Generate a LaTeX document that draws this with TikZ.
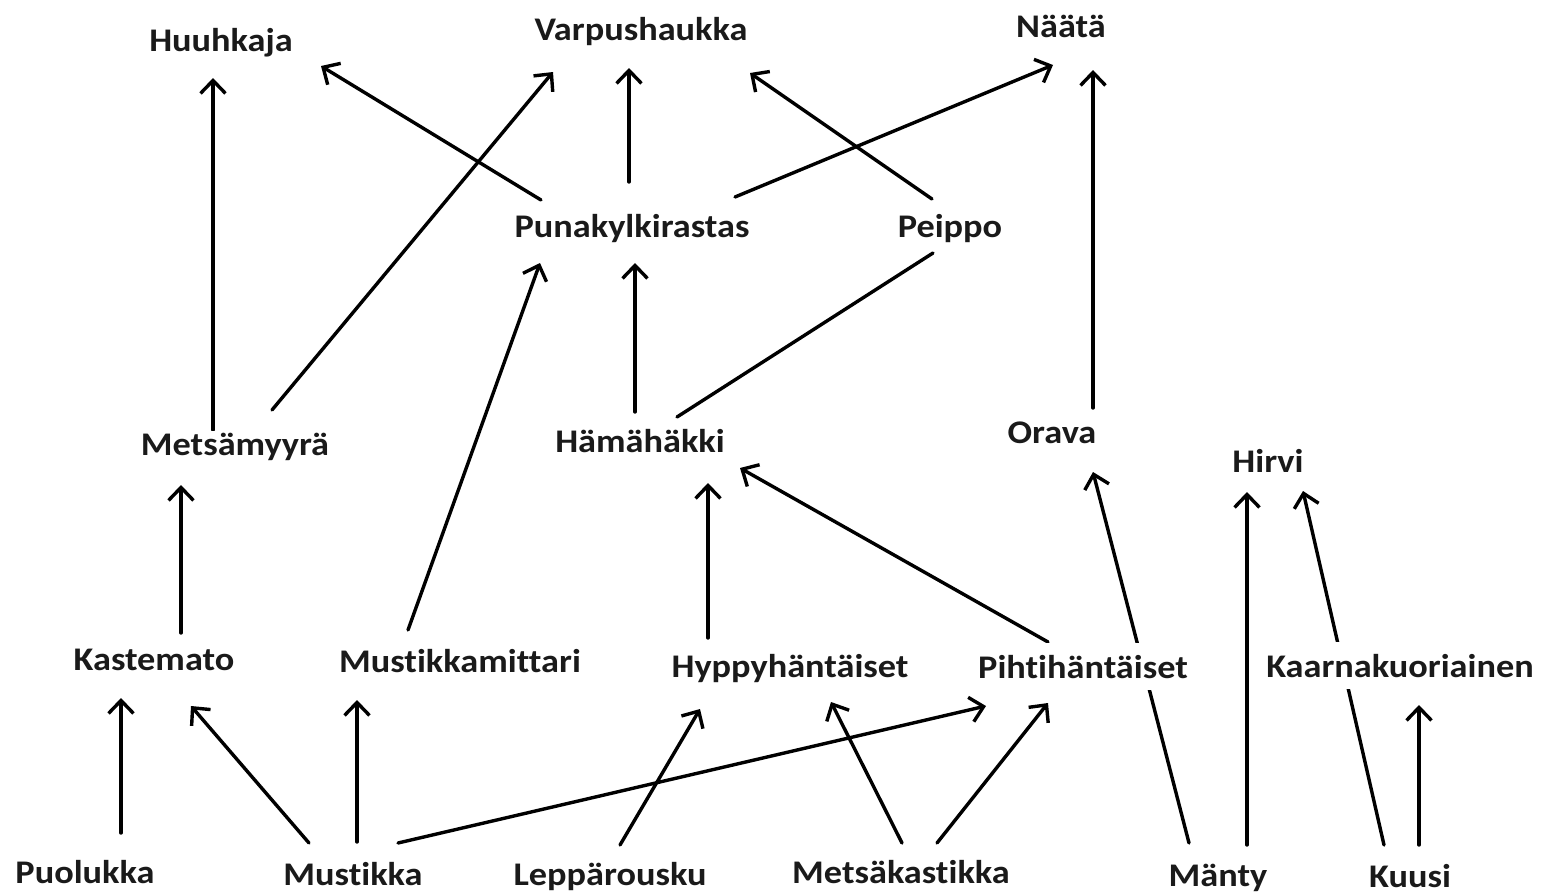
\documentclass[tikz,border=0pt]{standalone}
\usepackage{fontspec}
\setmainfont{Carlito}[FakeStretch=1.1,Ligatures={NoCommon,NoRequired,NoContextual}]
\usetikzlibrary{arrows.meta,calc}
\pgfdeclarelayer{bg}
\pgfsetlayers{bg,main}
\definecolor{txt}{HTML}{1A1A1A}
\begin{document}
\begin{tikzpicture}[x=0.5pt,y=-0.5pt,
  lbl/.style={anchor=base,inner sep=1pt,fill=white,text=txt,font=\bfseries\fontsize{16.5}{20}\selectfont},
  gap/.style={inner ysep=6pt},
  arr/.style={line width=1.7pt,line cap=round,-{Straight Barb[length=6.5pt,width=12.5pt,line width=1.7pt]}},
  ln/.style={line width=1.7pt,line cap=round}]
\useasboundingbox (0,0) rectangle (1542,894);
% nodes
\node[lbl] (Hu) at (221,51) {Huuhkaja};
\node[lbl] (Vp) at (641,40) {Varpushaukka};
\node[lbl] (Na) at (1061,38) {Näätä};
\node[lbl] (Pk) at (632,237) {Punakylkirastas};
\node[lbl] (Pe) at (950,237) {Peippo};
\node[lbl] (Mm) at (235,455) {Metsämyyrä};
\node[lbl] (Hm) at (640,452) {Hämähäkki};
\node[lbl] (Or) at (1052,443) {Orava};
\node[lbl] (Hi) at (1268,472) {Hirvi};
\node[lbl] (Ka) at (154,670) {Kastemato};
\node[lbl] (Mt) at (460,672) {Mustikkamittari};
\node[lbl] (Hy) at (790,677) {Hyppyhäntäiset};
\node[lbl,gap] (Pi) at (1083,678) {Pihtihäntäiset};
\node[lbl,gap] (Kk) at (1400,677) {Kaarnakuoriainen};
\node[lbl] (Pu) at (85,883) {Puolukka};
\node[lbl] (Mu) at (353,885) {Mustikka};
\node[lbl] (Le) at (610,885) {Leppärousku};
\node[lbl] (Mk) at (901,883) {Metsäkastikka};
\node[lbl] (Ma) at (1218,886) {Mänty};
\node[lbl] (Ku) at (1410,887) {Kuusi};
% connectors (behind the labels)
\begin{pgfonlayer}{bg}
\fill[white] (0,0) rectangle (1542,894);
\draw[arr] ($(Mm.base)+(-22,-25)$) -- ($(Hu.base)+(-8,27)$);
\draw[arr] ($(Mm.base)+(37,-45)$) -- ($(Vp.base)+(-88,32)$);
\draw[arr] ($(Pk.base)+(-91,-37)$) -- ($(Hu.base)+(100,15)$);
\draw[arr] ($(Pk.base)+(-3,-55)$) -- ($(Vp.base)+(-12,28)$);
\draw[arr] ($(Pk.base)+(103,-40)$) -- ($(Na.base)+(-8,27)$);
\draw[arr] ($(Pe.base)+(-18,-38)$) -- ($(Vp.base)+(109,33)$);
\draw[arr] ($(Or.base)+(41,-35)$) -- ($(Na.base)+(32,32)$);
\draw[arr] ($(Hm.base)+(-5,-40)$) -- ($(Pk.base)+(3,26)$);
\draw[ln]  ($(Hm.base)+(37,-35)$) -- ($(Pe.base)+(-17,16)$);
\draw[arr] ($(Mt.base)+(-52,-42)$) -- ($(Pk.base)+(-92,26)$);
\draw[arr] ($(Ka.base)+(27,-37)$) -- ($(Mm.base)+(-54,30)$);
\draw[arr] ($(Hy.base)+(-82,-39)$) -- ($(Hm.base)+(68,31)$);
\draw[arr] ($(Pi.base)+(-35,-36)$) -- ($(Hm.base)+(100,16)$);
\draw[arr] ($(Ma.base)+(-29,-43)$) -- ($(Or.base)+(41,29)$);
\draw[arr] ($(Ma.base)+(29,-41)$) -- ($(Hi.base)+(-21,20)$);
\draw[arr] ($(Ku.base)+(-26,-42)$) -- ($(Hi.base)+(35,19)$);
\draw[arr] ($(Ku.base)+(9,-42)$) -- ($(Kk.base)+(19,28)$);
\draw[arr] ($(Mk.base)+(1,-40)$) -- ($(Hy.base)+(41,25)$);
\draw[arr] ($(Mk.base)+(36,-40)$) -- ($(Pi.base)+(-35,25)$);
\draw[arr] ($(Mu.base)+(45,-42)$) -- ($(Pi.base)+(-97,28)$);
\draw[arr] ($(Le.base)+(10,-40)$) -- ($(Hy.base)+(-90,32)$);
\draw[arr] ($(Mu.base)+(4,-43)$) -- ($(Mt.base)+(-103,28)$);
\draw[arr] ($(Mu.base)+(-44,-42)$) -- ($(Ka.base)+(37,36)$);
\draw[arr] ($(Pu.base)+(36,-50)$) -- ($(Ka.base)+(-33,28)$);
\end{pgfonlayer}
\end{tikzpicture}
\end{document}
